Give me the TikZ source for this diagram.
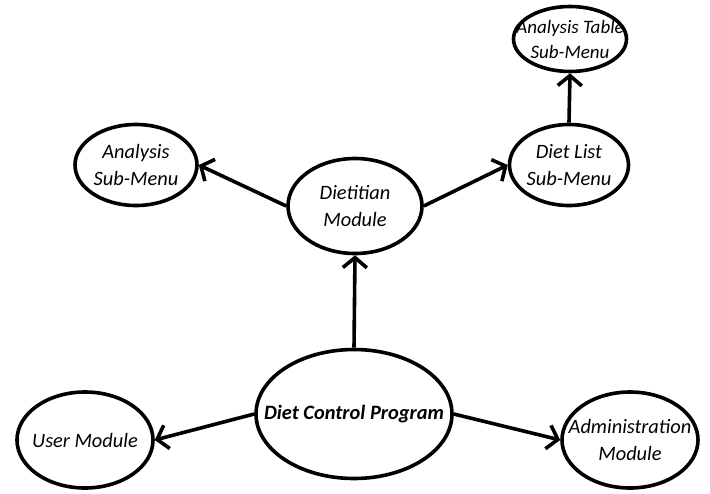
\documentclass[tikz,border=0pt]{standalone}
\usepackage{fontspec}
\setmainfont{Carlito}
\usetikzlibrary{shapes.geometric,arrows.meta}

\begin{document}
\begin{tikzpicture}[x=1pt, y=-1pt, line width=3.6pt,
  every node/.style={font=\fontsize{20.4}{27}\selectfont\itshape},
  module/.style={draw, ellipse, inner xsep=-45pt, inner ysep=-20pt, align=center},
  link/.style={-{Straight Barb[length=10pt,width=24pt]}}]
\useasboundingbox (0,0) rectangle (710,493);
% Ellipses
\node[module, minimum width=196pt, minimum height=129pt, font=\fontsize{20.4}{26}\selectfont\bfseries\itshape] (dcp) at (354,414) {Diet Control Program};
\node[module, minimum width=134pt, minimum height=95pt] (diet) at (355,206) {Dietitian\\Module};
\node[module, minimum width=122pt, minimum height=81pt] (anmenu) at (136,165) {Analysis\\Sub-Menu};
\node[module, minimum width=119pt, minimum height=81pt] (listmenu) at (569,165) {Diet List\\Sub-Menu};
\node[module, minimum width=113pt, minimum height=65pt, font=\fontsize{19}{25}\selectfont\itshape] (tabmenu) at (570,39) {Analysis Table\\Sub-Menu};
\node[module, minimum width=136pt, minimum height=96pt] (user) at (85,440) {User Module};
\node[module, minimum width=136pt, minimum height=96pt] (admin) at (630,440) {Administration\\Module};

% Arrows
\draw[link] (dcp.north) -- (diet.south);
\draw[link] (dcp.west) -- (user.east);
\draw[link] (dcp.east) -- (admin.west);
\draw[link] (diet.west) -- (anmenu.east);
\draw[link] (diet.east) -- (listmenu.west);
\draw[link] (listmenu.north) -- (tabmenu.south);
\end{tikzpicture}
\end{document}
